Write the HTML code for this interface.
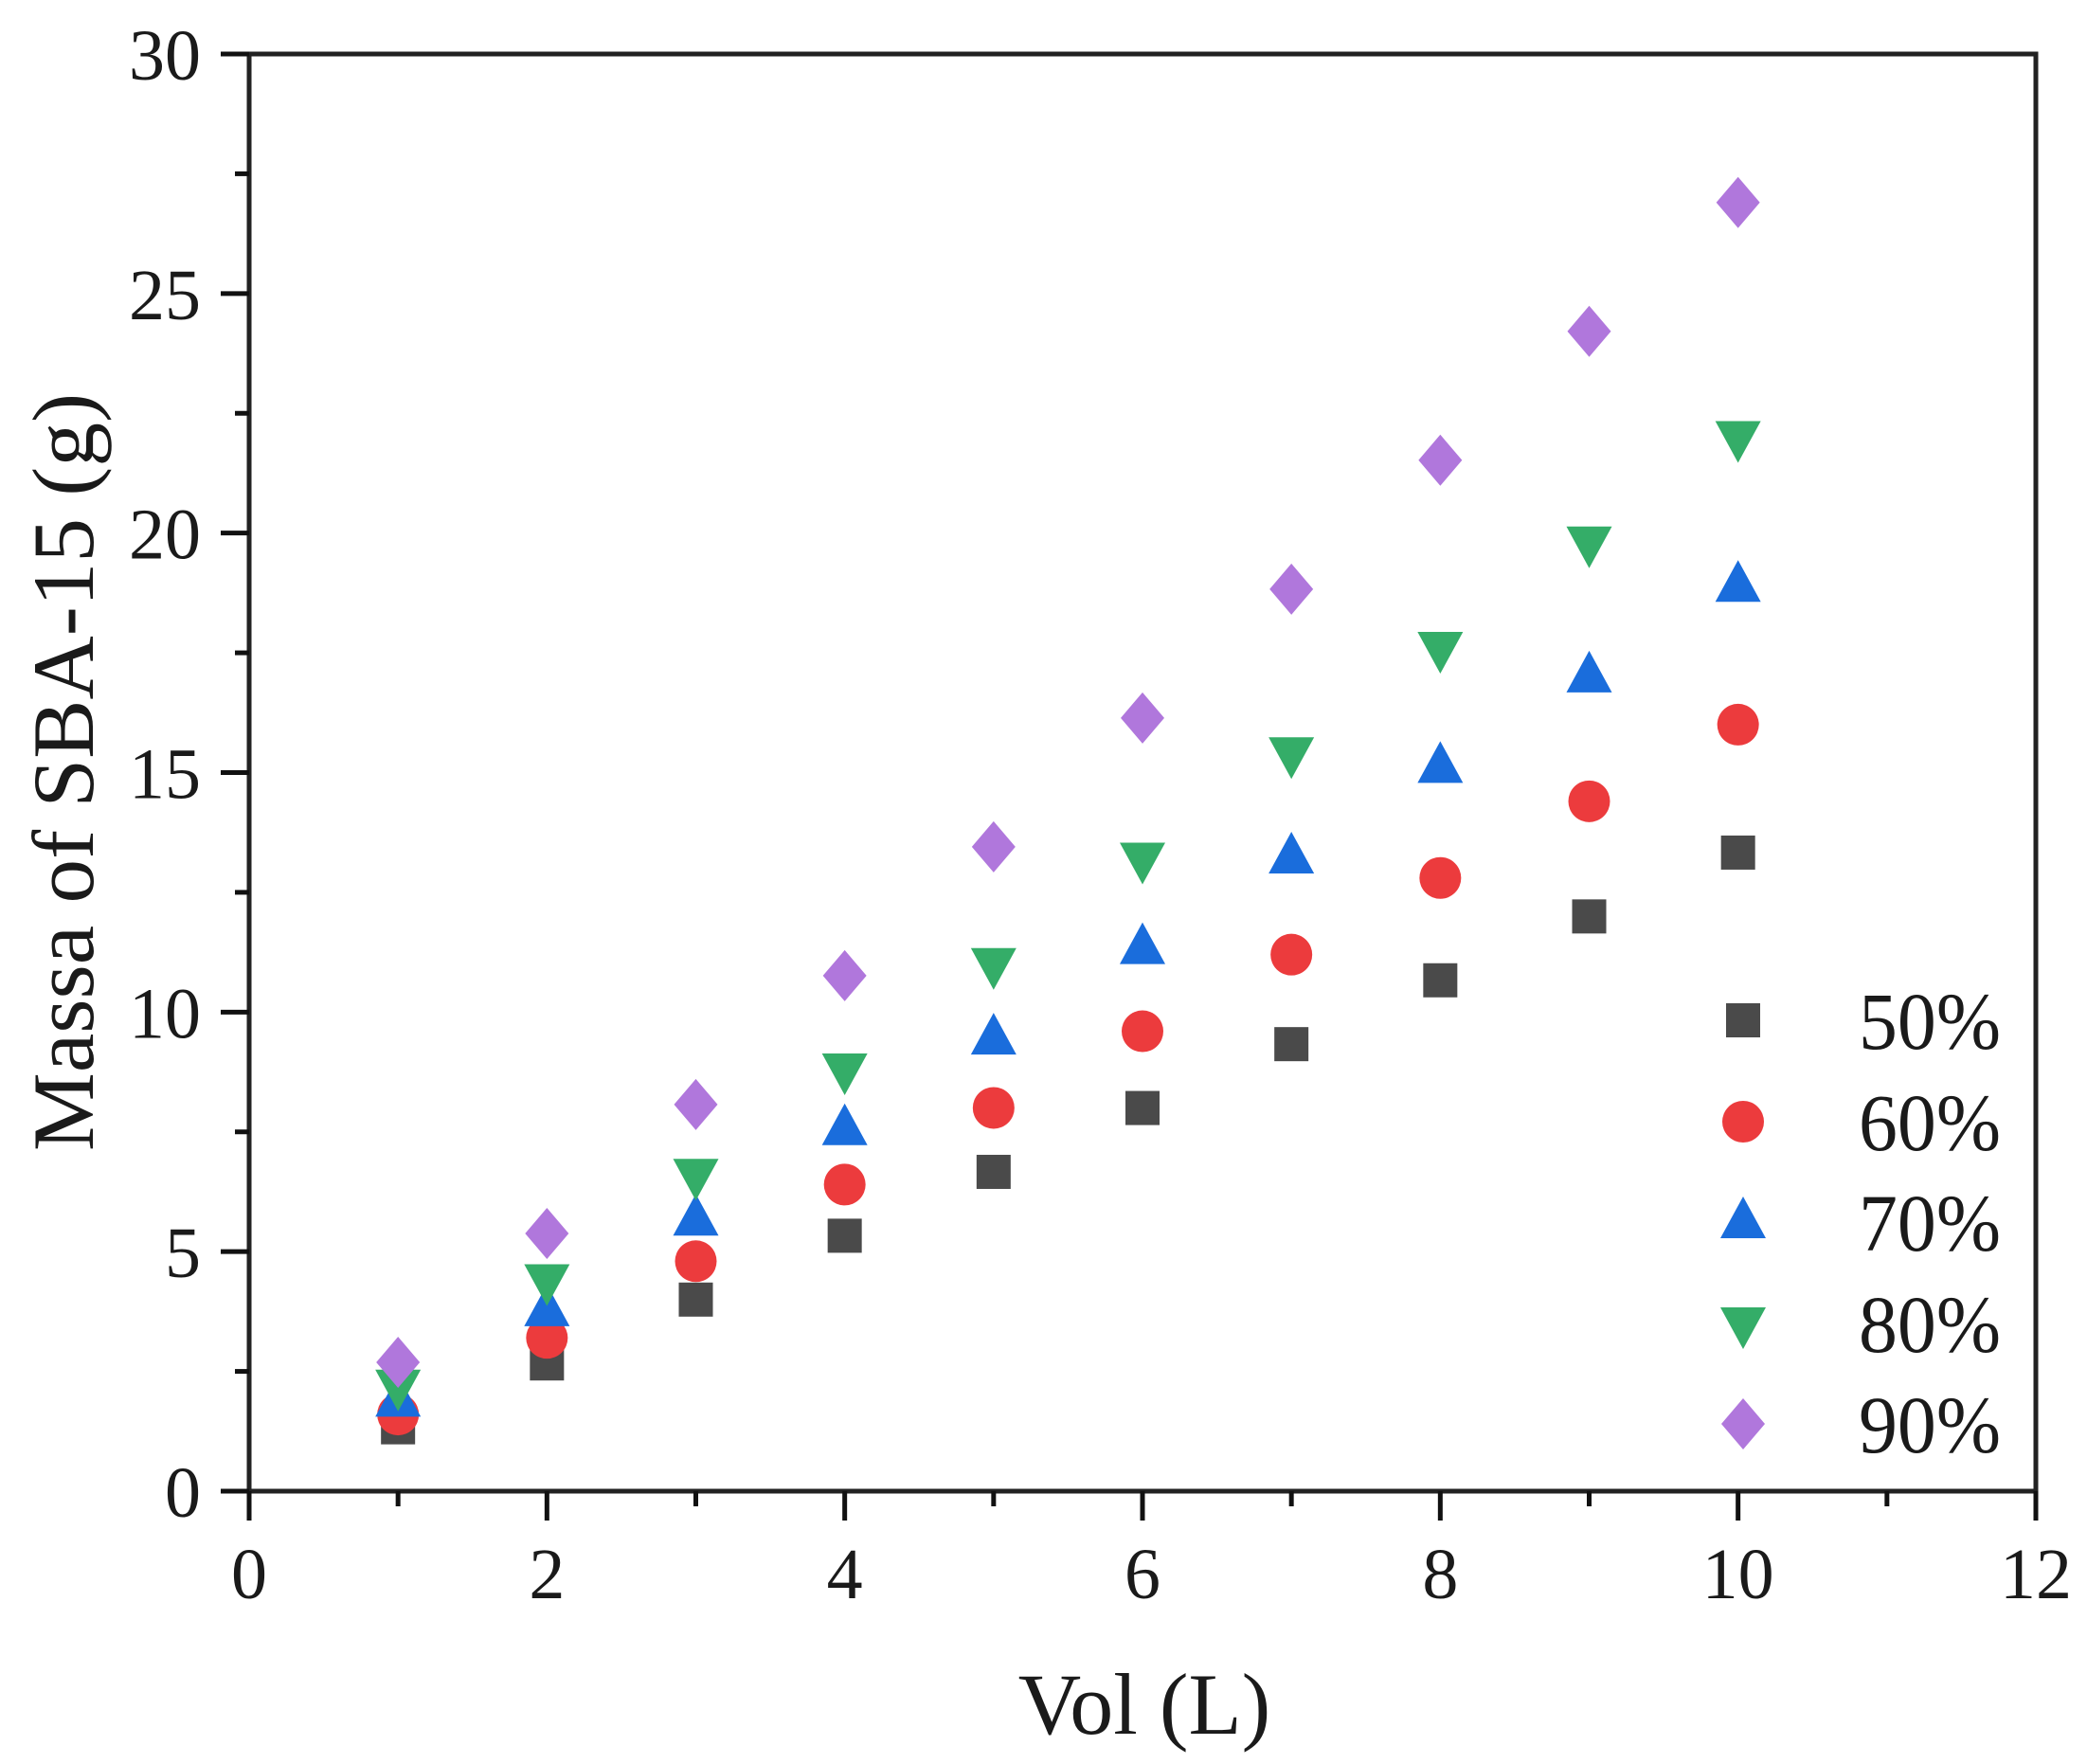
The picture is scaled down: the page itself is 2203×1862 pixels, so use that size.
<!DOCTYPE html>
<html><head><meta charset="utf-8"><style>
html,body{margin:0;padding:0;background:#fff}
svg{display:block}
text{font-family:"Liberation Serif",serif;fill:#1a1a1a}
</style></head><body>
<svg id="s" width="2203" height="1862" viewBox="0 0 2203 1862" xmlns="http://www.w3.org/2000/svg"></svg>
<script>
const s=document.getElementById('s');
const X0=263,X1=2149,Y0=1574,Y1=57;
const px=v=>X0+(X1-X0)*v/12, py=v=>Y0-(Y0-Y1)*v/30;
let h='';
h+=`<rect x="${X0}" y="${Y1}" width="${X1-X0}" height="${Y0-Y1}" fill="none" stroke="#222" stroke-width="5"/>`;
for(let i=0;i<=12;i++){const x=px(i);const major=i%2==0;h+=`<line x1="${x}" y1="${Y0}" x2="${x}" y2="${Y0+(major?31:16)}" stroke="#111" stroke-width="5"/>`;
 if(major)h+=`<text x="${x}" y="${1687}" font-size="76" text-anchor="middle">${i}</text>`;}
for(let i=0;i<=12;i++){const v=i*2.5;const y=py(v);const major=i%2==0;h+=`<line x1="${X0}" y1="${y}" x2="${X0-(major?30:15)}" y2="${y}" stroke="#111" stroke-width="5"/>`;
 if(major)h+=`<text x="212" y="${y+27}" font-size="76" text-anchor="end">${v}</text>`;}
h+=`<text x="1208" y="1830" font-size="92" text-anchor="middle">Vol (L)</text>`;
h+=`<text transform="translate(98,815) rotate(-90)" font-size="92" text-anchor="middle" textLength="800" lengthAdjust="spacingAndGlyphs">Massa of SBA-15 (g)</text>`;
const cols=['#4a4a4a','#ec3b3d','#1a6ddc','#34ad68','#b077dc'];
function mk(t,x,y){const c=cols[t];
 if(t==0)return `<rect x="${x-18}" y="${y-18}" width="36" height="36" fill="${c}"/>`;
 if(t==1)return `<circle cx="${x}" cy="${y}" r="22" fill="${c}"/>`;
 if(t==2)return `<polygon points="${x},${y-27} ${x-24},${y+17} ${x+24},${y+17}" fill="${c}"/>`;
 if(t==3)return `<polygon points="${x},${y+27} ${x-24},${y-17} ${x+24},${y-17}" fill="${c}"/>`;
 return `<polygon points="${x},${y-27} ${x+23},${y} ${x},${y+27} ${x-23},${y}" fill="${c}"/>`;}
const slopes=[1.333,1.6,1.89,2.2,2.69];
for(let t=0;t<5;t++)for(let i=1;i<=10;i++)h+=mk(t,px(i),py(slopes[t]*i));
const ly=[1077,1184,1290,1397,1503],lab=['50%','60%','70%','80%','90%'];
for(let t=0;t<5;t++){h+=mk(t,1840,ly[t]);h+=`<text x="1962" y="${ly[t]+30}" font-size="86" textLength="150" lengthAdjust="spacingAndGlyphs">${lab[t]}</text>`;}
s.innerHTML=h;
</script>
</body></html>
